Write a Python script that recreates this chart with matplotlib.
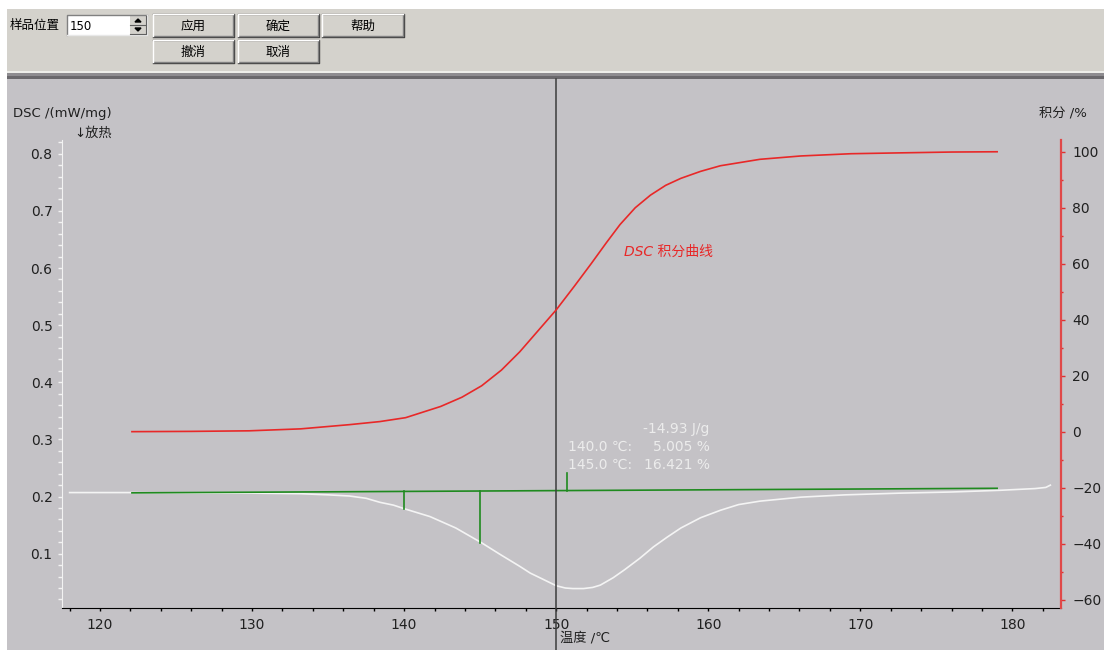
import matplotlib
matplotlib.use("Agg")
import matplotlib.pyplot as plt
from matplotlib.patches import Rectangle, Polygon
from matplotlib.ticker import MultipleLocator

plt.rcParams['font.family'] = ['DejaVu Sans', 'Noto Sans CJK SC']

# DSC signal (white curve, left axis, mW/mg)
dsc_temp = [118.0, 122.0, 126.6, 130.0, 133.2, 135.0, 136.4, 137.5, 138.4, 139.3, 140.1,
            141.7, 143.4, 145.1, 146.3, 147.6, 148.3, 149.0, 150.0, 150.6, 151.1, 151.8,
            152.4, 152.9, 153.75, 154.5, 155.5, 156.4, 157.3, 158.2, 159.5, 160.8, 162.0,
            163.4, 166.1, 169.0, 172.6, 176.0, 179.2, 181.5, 182.2, 182.5]
dsc_val = [0.207, 0.207, 0.206, 0.206, 0.205, 0.203, 0.201, 0.197, 0.190, 0.185, 0.178,
           0.165, 0.145, 0.119, 0.099, 0.078, 0.066, 0.057, 0.044, 0.040, 0.039, 0.039,
           0.041, 0.045, 0.058, 0.072, 0.092, 0.112, 0.129, 0.145, 0.163, 0.176, 0.186,
           0.192, 0.199, 0.203, 0.206, 0.208, 0.211, 0.214, 0.216, 0.220]

# integral curve (red, right axis, %)
int_temp = [122.1, 126.0, 129.8, 133.2, 136.4, 138.4, 140.1, 142.4, 143.8, 145.1, 146.4,
            147.6, 148.8, 150.0, 151.2, 152.3, 153.3, 154.2, 155.2, 156.2, 157.2, 158.2,
            159.5, 160.8, 163.4, 166.1, 169.4, 172.6, 176.0, 179.0]
int_val = [0.0, 0.1, 0.3, 1.0, 2.5, 3.6, 5.0, 9.0, 12.3, 16.4, 22.0,
           28.5, 36.0, 43.5, 52.0, 60.0, 67.5, 74.0, 80.0, 84.5, 88.0, 90.5,
           93.0, 95.0, 97.3, 98.5, 99.3, 99.6, 99.9, 100.0]

# integration baseline (green)
base_temp = [122.1, 179.0]
base_val = [0.2065, 0.2145]
limit_temp = [140.0, 145.0]
limit_dsc = [0.178, 0.119]
marker_temp = 150.7
marker_top = 0.241

cursor_temp = 150
peak_area = "-14.93 J/g"
partial_rows = [("140.0 \u2103:", "5.005 %"), ("145.0 \u2103:", "16.421 %")]

W, H = 1104, 650
BG = '#c4c2c6'
PANEL = '#d4d2cc'
TXT = '#202020'

fig = plt.figure(figsize=(W / 100, H / 100), dpi=100, facecolor='white')

# pixel-space layer for the window chrome
ui = fig.add_axes([0, 0, 1, 1], zorder=-5)
ui.set_xlim(0, W)
ui.set_ylim(H, 0)
ui.axis('off')
ui.add_patch(Rectangle((7, 9), W - 7, 62, facecolor=PANEL, edgecolor='none'))
ui.add_patch(Rectangle((7, 71), W - 7, 2, facecolor='#eeeeea', edgecolor='none'))
ui.add_patch(Rectangle((7, 73), W - 7, 3, facecolor='#8e8c90', edgecolor='none'))
ui.add_patch(Rectangle((7, 76), W - 7, 3, facecolor='#6a686c', edgecolor='none'))
ui.add_patch(Rectangle((7, 79), W - 7, H - 79, facecolor=BG, edgecolor='none'))


def button(x0, y0, x1, y1, label):
    ui.add_patch(Rectangle((x0, y0), x1 - x0, y1 - y0, facecolor=PANEL, edgecolor='none'))
    ui.plot([x0, x1, x1, x0], [y1, y1, y0, y0], color='#404040', lw=1)
    ui.plot([x0 + 1, x1 - 1, x1 - 1], [y1 - 1, y1 - 1, y0 + 1], color='#808080', lw=1)
    ui.plot([x0, x0, x1 - 1], [y1 - 1, y0, y0], color='white', lw=1)
    ui.text((x0 + x1) / 2, (y0 + y1) / 2 + 1, label, ha='center', va='center',
            fontsize=9, color='black')


button(153, 14, 234, 37, "应用")
button(238, 14, 319, 37, "确定")
button(322, 14, 404, 37, "帮助")
button(153, 40, 234, 63, "撤消")
button(238, 40, 319, 63, "取消")

ui.text(10, 26, "样品位置", ha='left', va='center', fontsize=9, color='black')
ui.add_patch(Rectangle((67, 15), 80, 20, facecolor='white', edgecolor='none'))
ui.plot([67, 67, 147], [35, 15, 15], color='#808080', lw=1)
ui.plot([67, 147, 147], [35, 35, 15], color='#e8e8e8', lw=1)
ui.text(70, 26, "150", ha='left', va='center', fontsize=8.5, color='black')
for yy in (16, 25):
    ui.add_patch(Rectangle((130, yy), 16, 9, facecolor=PANEL, edgecolor='none'))
    ui.plot([130, 146, 146], [yy + 9, yy + 9, yy], color='#606060', lw=0.8)
ui.add_patch(Polygon([[135, 22], [141, 22], [138, 19]], closed=True, color='black'))
ui.add_patch(Polygon([[135, 28], [141, 28], [138, 31]], closed=True, color='black'))

# chart
ax = fig.add_axes([62 / W, 42 / H, 999 / W, 468 / H])
ax.set_facecolor('none')
ax.set_xlim(117.5, 183.2)
ax.set_ylim(0.005, 0.824)
ax2 = ax.twinx()
ax2.set_ylim(-63.0, 104.2)

for s in ('top', 'right'):
    ax.spines[s].set_visible(False)
ax.spines['left'].set_color('#f2f2f2')
ax.spines['bottom'].set_color('black')
for s in ('top', 'left', 'bottom'):
    ax2.spines[s].set_visible(False)
ax2.spines['right'].set_color('#e04848')
ax2.spines['right'].set_linewidth(1.6)

ax.xaxis.set_major_locator(MultipleLocator(10))
ax.xaxis.set_minor_locator(MultipleLocator(2))
ax.yaxis.set_major_locator(MultipleLocator(0.1))
ax.yaxis.set_minor_locator(MultipleLocator(0.02))
ax2.yaxis.set_major_locator(MultipleLocator(20))
ax2.yaxis.set_minor_locator(MultipleLocator(10))

ax.tick_params(axis='x', which='both', direction='out', length=2.5, width=1, color='black',
               labelsize=10, labelcolor=TXT, pad=5)
ax.tick_params(axis='y', which='both', direction='out', length=2.8, width=1, color='#f2f2f2',
               labelsize=10, labelcolor=TXT, pad=4)
ax2.tick_params(axis='y', which='major', direction='out', length=3, width=1, color='#e03030',
                labelsize=10, labelcolor=TXT, pad=5)
ax2.tick_params(axis='y', which='minor', direction='out', length=1.5, width=1, color='#e03030')
ax.yaxis.set_major_formatter(matplotlib.ticker.FormatStrFormatter('%.1f'))

ax.plot(dsc_temp, dsc_val, color='#f4f4f4', lw=1.2, zorder=3)
ax.plot(base_temp, base_val, color='#1f8a1f', lw=1.2, zorder=4)


def base_at(t):
    return base_val[0] + (base_val[1] - base_val[0]) * (t - base_temp[0]) / (base_temp[1] - base_temp[0])


for t, v in zip(limit_temp, limit_dsc):
    ax.plot([t, t], [base_at(t), v], color='#1f8a1f', lw=1.2, zorder=4)
ax.plot([marker_temp, marker_temp], [base_at(marker_temp), marker_top], color='#1f8a1f', lw=1.2, zorder=4)
ax2.plot(int_temp, int_val, color='#e82828', lw=1.2, zorder=3)

ax.plot([cursor_temp, cursor_temp], [-0.1, 1.13], transform=ax.get_xaxis_transform(),
        clip_on=False, color='#3c3c3c', lw=1.1, zorder=5)

ax2.text(154.45, 64.2, "DSC 积分曲线", color='#e82828', fontsize=10, style='italic',
         ha='left', va='center')

# annotation
fig.text(709 / W, 1 - 429 / H, peak_area, ha='right', va='center', fontsize=10, color='#ececec')
for i, (lab, val) in enumerate(partial_rows):
    yy = 1 - (447 + 18 * i) / H
    fig.text(568 / W, yy, lab, ha='left', va='center', fontsize=10, color='#ececec')
    fig.text(710 / W, yy, val, ha='right', va='center', fontsize=10, color='#ececec')

# axis titles
fig.text(13 / W, 1 - 114 / H, "DSC /(mW/mg)", ha='left', va='center', fontsize=9.5, color=TXT)
fig.text(74 / W, 1 - 133 / H, "\u2193放热", ha='left', va='center', fontsize=9.5, color=TXT)
fig.text(1087 / W, 1 - 114 / H, "积分 /%", ha='right', va='center', fontsize=9.5, color=TXT)
fig.text(560 / W, 1 - 638 / H, "温度 /\u2103", ha='left', va='center', fontsize=9.5, color=TXT)

fig.savefig("out.png", dpi=100, facecolor=fig.get_facecolor())
